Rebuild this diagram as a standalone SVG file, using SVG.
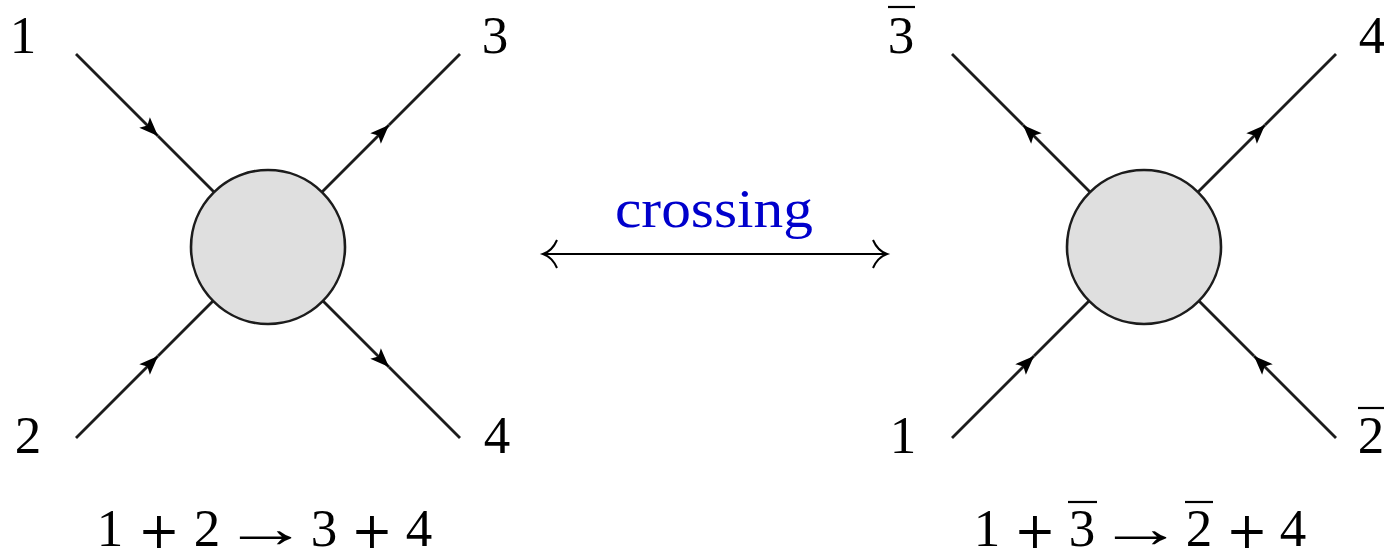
<svg xmlns="http://www.w3.org/2000/svg" width="1384" height="553" viewBox="0 0 1384 553">
  <style>
    .ln { fill: none; stroke: #1c1c1c; stroke-width: 2.8; }
    .arr { marker-end: url(#ah); }
    .blob { fill: #dfdfdf; stroke: #1c1c1c; stroke-width: 2.6; }
    .lbl { font-family: "Liberation Serif", "DejaVu Serif", serif; font-size: 53px; fill: #000; text-anchor: middle; }
    .op { font-family: "DejaVu Serif", "Liberation Serif", serif; font-size: 50px; fill: #000; text-anchor: middle; }
    .to { font-family: "Liberation Serif", "DejaVu Serif", serif; font-size: 56px; fill: #000; text-anchor: middle; }
    .bar { stroke: #000; stroke-width: 2.2; }
    .cross { font-family: "Liberation Serif", "DejaVu Serif", serif; font-size: 55px; fill: #0000cc; }
    .dbl { fill: none; stroke: #000; stroke-width: 2; }
  </style>
  <defs>
    <marker id="ah" viewBox="-22 -9 23 18" refX="0" refY="0" markerWidth="23" markerHeight="18" markerUnits="userSpaceOnUse" orient="auto">
      <path d="M0,0 L-19,-7.5 L-15,0 L-19,7.5 Z" fill="#000"/>
    </marker>
  </defs>

  <g id="connectors">
    <!-- left diagram -->
    <path class="ln arr" d="M76,54 L158,136"/>
    <path class="ln" d="M158,136 L268,246"/>
    <path class="ln arr" d="M268,246 L389,125"/>
    <path class="ln" d="M389,125 L460,54"/>
    <path class="ln arr" d="M76,438 L158,356"/>
    <path class="ln" d="M158,356 L268,246"/>
    <path class="ln arr" d="M268,246 L389,367"/>
    <path class="ln" d="M389,367 L460,438"/>
    <!-- right diagram -->
    <path class="ln arr" d="M1144,246 L1023,125"/>
    <path class="ln" d="M1023,125 L952,54"/>
    <path class="ln arr" d="M1144,246 L1265,125"/>
    <path class="ln" d="M1265,125 L1336,54"/>
    <path class="ln arr" d="M952,438 L1034,356"/>
    <path class="ln" d="M1034,356 L1144,246"/>
    <path class="ln arr" d="M1336,438 L1254,356"/>
    <path class="ln" d="M1254,356 L1144,246"/>
    <!-- crossing double arrow -->
    <g id="crossing-arrow">
      <path class="dbl" d="M544,254 L886,254"/>
      <path class="dbl" d="M557,240 C554,247 549,252 543,254 C549,256 554,261 557,268"/>
      <path class="dbl" d="M873,240 C876,247 881,252 887,254 C881,256 876,261 873,268"/>
    </g>
  </g>

  <g id="blob-left">
    <circle class="blob" cx="268" cy="247" r="77"/>
  </g>
  <g id="blob-right">
    <circle class="blob" cx="1144" cy="247" r="77"/>
  </g>

  <g id="labels-left">
    <text class="lbl" x="23" y="53">1</text>
    <text class="lbl" x="495" y="53">3</text>
    <text class="lbl" x="28" y="453">2</text>
    <text class="lbl" x="497" y="453">4</text>
  </g>
  <g id="labels-right">
    <text class="lbl" x="901" y="53">3</text>
    <line class="bar" x1="888" y1="7" x2="915" y2="7"/>
    <text class="lbl" x="1372" y="53">4</text>
    <text class="lbl" x="903" y="453">1</text>
    <text class="lbl" x="1371" y="453">2</text>
    <line class="bar" x1="1358" y1="408" x2="1384" y2="408"/>
  </g>

  <g id="label-crossing">
    <text class="cross" x="615" y="227" textLength="198" lengthAdjust="spacingAndGlyphs">crossing</text>
  </g>

  <g id="formula-left">
    <text class="lbl" x="110" y="546">1</text>
    <text class="op" x="159" y="548">+</text>
    <text class="lbl" x="207" y="546">2</text>
    <text class="to" transform="translate(266,547) scale(1.55,1)">→</text>
    <text class="lbl" x="324" y="546">3</text>
    <text class="op" x="372" y="548">+</text>
    <text class="lbl" x="419" y="546">4</text>
  </g>
  <g id="formula-right">
    <text class="lbl" x="987" y="546">1</text>
    <text class="op" x="1035" y="548">+</text>
    <text class="lbl" x="1082" y="546">3</text>
    <line class="bar" x1="1068" y1="502" x2="1097" y2="502"/>
    <text class="to" transform="translate(1141,547) scale(1.55,1)">→</text>
    <text class="lbl" x="1199" y="546">2</text>
    <line class="bar" x1="1185" y1="502" x2="1213" y2="502"/>
    <text class="op" x="1247" y="548">+</text>
    <text class="lbl" x="1293" y="546">4</text>
  </g>
</svg>
